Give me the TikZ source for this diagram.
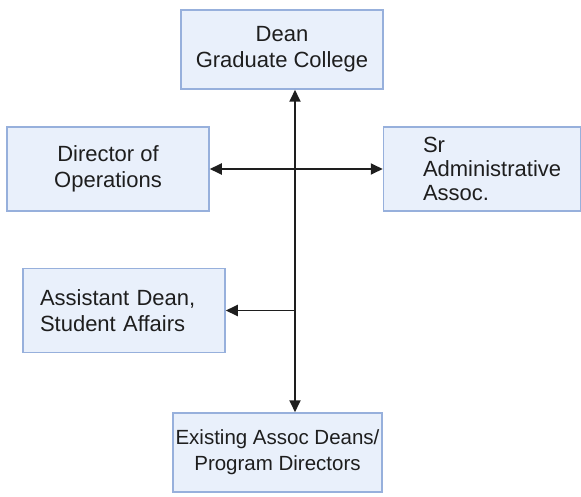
\documentclass[tikz,border=0pt]{standalone}
\usepackage{fontspec}
\setmainfont{Liberation Sans}
\usetikzlibrary{arrows.meta}
\definecolor{boxfill}{HTML}{E9F0FB}
\definecolor{boxline}{HTML}{97B0DC}
\definecolor{ink}{HTML}{1E1E1E}

\begin{document}
\begin{tikzpicture}[x=1pt,y=-1pt,
        box/.style={
        rectangle, draw=boxline, fill=boxfill, text=ink,
        line width=1.5pt, inner sep=0pt,
        font=\fontsize{22}{26}\selectfont},
        link/.style={line width=1.8pt, draw=ink,
        arrows={-Triangle[length=12pt,width=11pt]}},
        both/.style={link,
        arrows={Triangle[length=12pt,width=11pt]-Triangle[length=12pt,width=11pt]}},
        ]
        \useasboundingbox (0,0) rectangle (581,497);

        \node (dean) [box, minimum width=202, minimum height=79, align=center] at (282,49.5)
            {Dean\\Graduate College};
        \node (dirops) [box, minimum width=202, minimum height=84, align=center] at (108,169)
            {Director of\\Operations};
        \node (sradmin) [box, minimum width=197, minimum height=84, align=left,
            text width=118, font=\fontsize{22}{24}\selectfont] at (482,169)
            {Sr\\Administrative\\Assoc.};
        \node (asst) [box, minimum width=202, minimum height=84, align=left,
            text width=168] at (124,310.5)
            {Assistant Dean,\\Student Affairs};
        \node (exist) [box, minimum width=209, minimum height=79, align=center,
            font=\fontsize{20.5}{26}\selectfont] at (277.5,452.5)
            {Existing Assoc Deans/\\Program Directors};

        \coordinate (spine) at (295,0);

        \draw [both] (dean.south -| spine) -- (exist.north -| spine);
        \draw [both] (dirops.east) -- (sradmin.west);
        \draw [link] (asst.east -| spine) -- (asst.east);
    \end{tikzpicture}
\end{document}
